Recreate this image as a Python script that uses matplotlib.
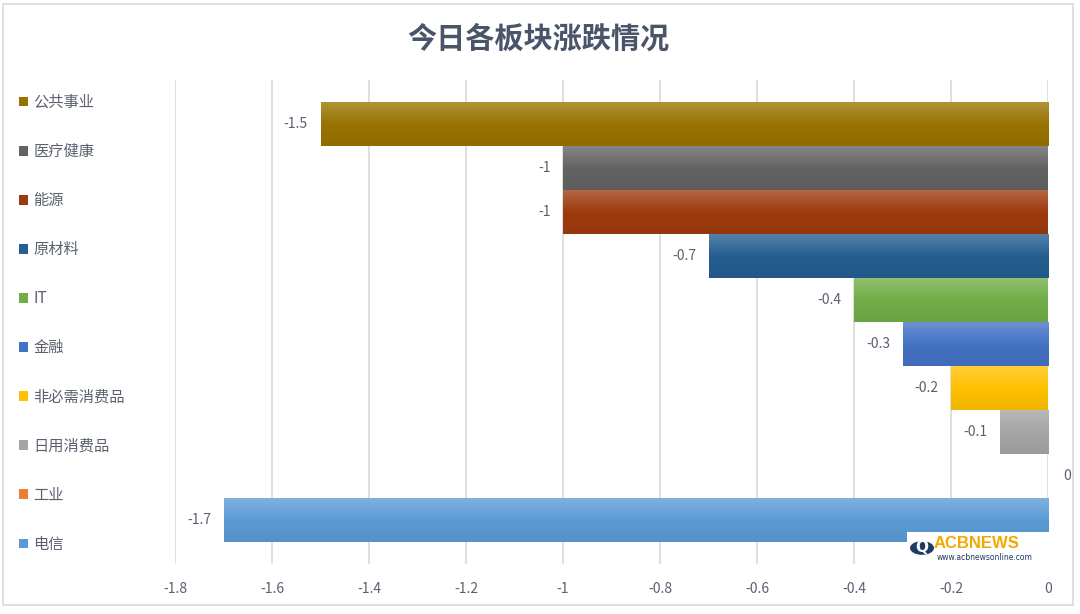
import matplotlib
matplotlib.use('Agg')
import matplotlib.pyplot as plt
from matplotlib.patches import Patch, Rectangle, Circle
import matplotlib.colors as mcolors
import numpy as np

plt.rcParams['font.family'] = ['Noto Sans CJK SC', 'DejaVu Sans']

title = '今日各板块涨跌情况'
sectors = ['公共事业', '医疗健康', '能源', '原材料', 'IT', '金融',
           '非必需消费品', '日用消费品', '工业', '电信']
changes = [-1.5, -1, -1, -0.7, -0.4, -0.3, -0.2, -0.1, 0, -1.7]
colors = ['#997300', '#636363', '#9E3B0E', '#255E91', '#70AD47', '#4472C4',
          '#FFC000', '#A5A5A5', '#ED7D31', '#5B9BD5']
xticks = [-1.8, -1.6, -1.4, -1.2, -1, -0.8, -0.6, -0.4, -0.2, 0]

txt = '#5A6070'
grid = '#D9D9D9'

fig = plt.figure(figsize=(10.8, 6.14), dpi=100)
fig.patch.set_facecolor('white')

# outer chart frame
fig.add_artist(Rectangle((3 / 1080, 1 - 605 / 614), 1070 / 1080, 601 / 614,
                         transform=fig.transFigure, fill=False,
                         edgecolor=grid, lw=1.2))

ax = fig.add_axes([175 / 1080, 1 - 564 / 614, 873 / 1080, 484 / 614])
ypos = np.arange(len(sectors))
bars = ax.barh(ypos, changes, height=1.0, color=colors, zorder=2)


def shade(c, f):
    r = np.array(mcolors.to_rgb(c))
    if f >= 0:
        return r + (1 - r) * f
    return r * (1 + f)


# excel-like vertical gradient inside every bar
for rect, c in zip(bars, colors):
    w = rect.get_width()
    if w == 0:
        continue
    stops = np.linspace(0, 1, 64)
    top, mid, bot = shade(c, 0.22), shade(c, 0.0), shade(c, -0.06)
    g = np.array([top + (mid - top) * (s / 0.5) if s < 0.5 else mid + (bot - mid) * ((s - 0.5) / 0.5)
                  for s in stops])
    img = g.reshape(-1, 1, 3)
    x0, y0, h = rect.get_x(), rect.get_y(), rect.get_height()
    im = ax.imshow(img, extent=(x0, x0 + w, y0 + h, y0), aspect='auto',
                   interpolation='bilinear', zorder=3)
    im.set_clip_path(rect)

# data labels
for y, v in zip(ypos, changes):
    if v < 0:
        ax.annotate('%g' % v, xy=(v, y), xytext=(-9, 0), textcoords='offset points',
                    ha='right', va='center', fontsize=10, color=txt)
    else:
        ax.annotate('%g' % v, xy=(v, y), xytext=(11, 0), textcoords='offset points',
                    ha='left', va='center', fontsize=10, color=txt,
                    annotation_clip=False)

ax.set_xlim(-1.8, 0)
ax.set_ylim(10.0, -1.0)
ax.set_xticks(xticks)
ax.set_xticklabels(['%g' % t for t in xticks])
ax.set_yticks([])
ax.tick_params(axis='x', length=0, pad=13, labelsize=10, labelcolor=txt)
ax.grid(axis='x', color=grid, lw=1.2, zorder=0)
ax.set_axisbelow(True)
for s in ax.spines.values():
    s.set_visible(False)

fig.text(538 / 1080, 1 - 39 / 614, title, ha='center', va='center',
         fontsize=21, fontweight='bold', color='#4B5569')

handles = [Patch(facecolor=c, edgecolor='none') for c in colors]
fig.legend(handles, sectors, loc='upper left', bbox_to_anchor=(19 / 1080, 1 - 94 / 614),
           frameon=False, fontsize=11, labelcolor=txt, handlelength=0.6,
           handleheight=0.6, handletextpad=0.35, labelspacing=2.1,
           borderaxespad=0, borderpad=0)

# watermark logo (bottom right)
fig.add_artist(Rectangle((907 / 1080, 1 - 566 / 614), 153 / 1080, 34 / 614,
                         transform=fig.transFigure, facecolor='white',
                         edgecolor='none', zorder=5))
fig.add_artist(Circle((922 / 1080, 1 - 548 / 614), 12 / 1080,
                      transform=fig.transFigure, facecolor='#1F3B63',
                      edgecolor='none', zorder=6))
fig.text(922 / 1080, 1 - 548 / 614, 'Q', ha='center', va='center', fontsize=11,
         fontweight='bold', color='white', zorder=7, family='DejaVu Sans')
fig.text(934 / 1080, 1 - 544 / 614, 'ACBNEWS', ha='left', va='center', fontsize=12,
         fontweight='bold', color='#F2A900', zorder=7, family='Liberation Sans')
fig.text(937 / 1080, 1 - 557 / 614, 'www.acbnewsonline.com', ha='left', va='center',
         fontsize=5.5, color='#1F3B63', zorder=7, family='DejaVu Sans')

fig.savefig('out.png', dpi=100)
